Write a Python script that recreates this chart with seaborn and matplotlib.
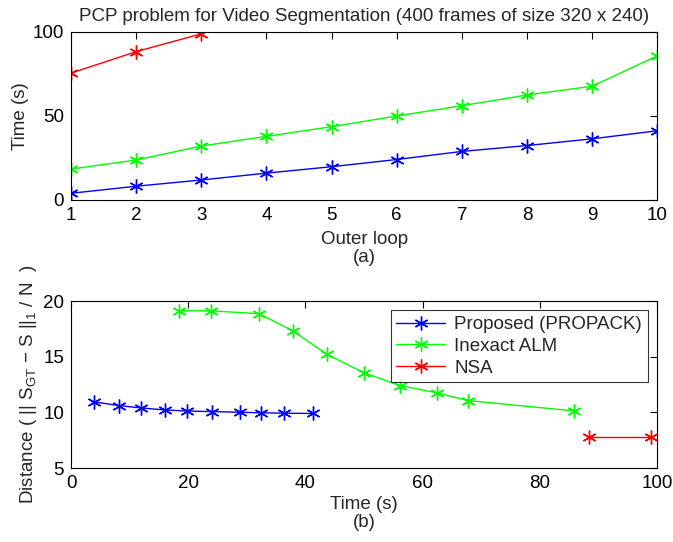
import pandas as pd
import matplotlib
matplotlib.use("Agg")
import matplotlib.pyplot as plt
import seaborn as sns

# values
outer_loop = [1, 2, 3, 4, 5, 6, 7, 8, 9, 10]
time_proposed = [4.0, 8.2, 11.9, 16.0, 19.8, 24.1, 28.9, 32.4, 36.4, 41.2]
time_inexact = [18.4, 23.8, 32.1, 37.9, 43.6, 50.0, 56.1, 62.5, 67.7, 85.8]
time_nsa = [75.5, 88.3, 98.9]

dist_proposed = [10.94, 10.61, 10.40, 10.22, 10.12, 10.07, 10.01, 9.96, 9.93, 9.90]
dist_inexact = [19.13, 19.13, 18.86, 17.30, 15.23, 13.55, 12.41, 11.75, 11.06, 10.13]
dist_nsa = [7.82, 7.82]

labels = ["Proposed (PROPACK)", "Inexact ALM", "NSA"]
colors = ["#0000ff", "#00ff00", "#ff0000"]

FS = 13.5
ASTERISK = (6, 2, 0)

sns.set_style("white")
plt.rcParams["font.family"] = ["Liberation Sans", "DejaVu Sans"]
plt.rcParams["mathtext.default"] = "regular"
plt.rcParams["font.size"] = FS

fig = plt.figure(figsize=(6.73, 5.42), dpi=100)
ax1 = fig.add_axes([0.1055, 0.631, 0.871, 0.310])
ax2 = fig.add_axes([0.1055, 0.1365, 0.871, 0.308])

# ================== (a) time per outer loop ==================
top = [
    pd.DataFrame({"loop": outer_loop, "t": time_proposed}),
    pd.DataFrame({"loop": outer_loop, "t": time_inexact}),
    pd.DataFrame({"loop": outer_loop[:len(time_nsa)], "t": time_nsa}),
]
for df, c in zip(top, colors):
    sns.lineplot(data=df, x="loop", y="t", ax=ax1, color=c, marker=ASTERISK,
                 markersize=10, markeredgecolor=c, markeredgewidth=1,
                 linewidth=1)
ax1.set_xlim(1, 10)
ax1.set_ylim(0, 100)
ax1.set_xticks(outer_loop)
ax1.set_yticks([0, 50, 100])
ax1.set_xlabel("Outer loop\n(a)", labelpad=5, linespacing=1.05)
ax1.set_ylabel("Time (s)", labelpad=3)
ax1.set_title("PCP problem for Video Segmentation (400 frames of size 320 x 240)",
              fontsize=FS, pad=8)

# ================== (b) distance vs time ==================
bottom = [
    pd.DataFrame({"t": time_proposed, "d": dist_proposed}),
    pd.DataFrame({"t": time_inexact, "d": dist_inexact}),
    pd.DataFrame({"t": time_nsa[1:], "d": dist_nsa}),
]
for df, c, lab in zip(bottom, colors, labels):
    sns.lineplot(data=df, x="t", y="d", ax=ax2, color=c, marker=ASTERISK,
                 markersize=10, markeredgecolor=c, markeredgewidth=1,
                 linewidth=1, label=lab)
ax2.set_xlim(0, 100)
ax2.set_ylim(5, 20)
ax2.set_xticks([0, 20, 40, 60, 80, 100])
ax2.set_yticks([5, 10, 15, 20])
ax2.set_xlabel("Time (s)\n(b)", labelpad=3, linespacing=1.05)
ax2.set_ylabel(r"Distance ( || S$_{GT}$ $-$ S ||$_1$ / N  )", labelpad=3)
leg = ax2.legend(loc="upper right", fontsize=FS, frameon=True, fancybox=False,
                 edgecolor="black", borderaxespad=0.5, handlelength=2.6,
                 handletextpad=0.5, labelspacing=0.25, borderpad=0.3)
leg.get_frame().set_linewidth(0.8)

for ax in (ax1, ax2):
    for s in ax.spines.values():
        s.set_color("black")
        s.set_linewidth(0.8)
    ax.tick_params(direction="in", length=5, width=0.8, top=True, right=True,
                   labelsize=FS, pad=5, colors="black")

fig.savefig("out.png", dpi=100)
